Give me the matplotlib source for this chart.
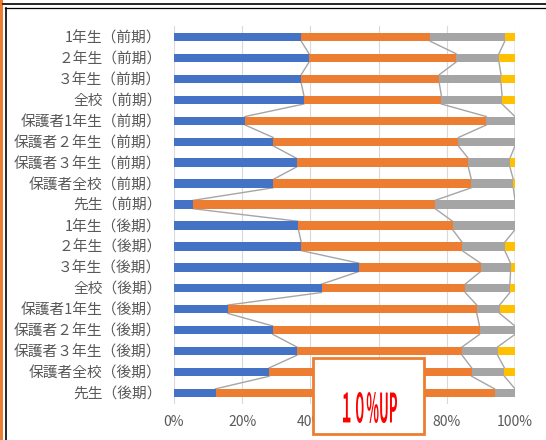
import matplotlib
matplotlib.use("Agg")
import matplotlib.pyplot as plt
from matplotlib.patches import Rectangle, PathPatch
from matplotlib.textpath import TextPath
from matplotlib.font_manager import FontProperties
from matplotlib.lines import Line2D
from matplotlib.transforms import Affine2D
import numpy as np

plt.rcParams['font.family'] = ['Noto Sans CJK JP', 'DejaVu Sans']

categories = ["1年生（前期）", "２年生（前期）", "３年生（前期）", "全校（前期）",
              "保護者1年生（前期）", "保護者２年生（前期）", "保護者３年生（前期）", "保護者全校（前期）",
              "先生（前期）", "1年生（後期）", "２年生（後期）", "３年生（後期）", "全校（後期）",
              "保護者1年生（後期）", "保護者２年生（後期）", "保護者３年生（後期）", "保護者全校（後期）",
              "先生（後期）"]
blue   = [37.3, 39.6, 37.3, 38.1, 20.8, 29.1, 36.0, 29.1, 5.6, 36.5, 37.3, 54.2, 43.3, 15.8, 29.0, 36.0, 27.9, 12.2]
orange = [37.8, 43.1, 40.5, 40.3, 70.8, 54.3, 50.3, 58.1, 71.0, 45.2, 47.2, 35.7, 42.1, 73.0, 60.6, 48.5, 59.4, 81.8]
gray   = [21.9, 12.6, 18.1, 17.8, 8.4, 16.6, 12.2, 12.3, 23.4, 18.3, 12.5, 8.8, 13.1, 6.7, 10.4, 10.4, 9.6, 6.0]
yellow = [3.0, 4.7, 4.1, 3.8, 0.0, 0.0, 1.5, 0.5, 0.0, 0.0, 3.0, 1.3, 1.5, 4.5, 0.0, 5.1, 3.1, 0.0]
xticks = [0, 20, 40, 60, 80, 100]
xticklabels = ["0%", "20%", "40%", "60%", "80%", "100%"]
box_text = "１０%UP"

colors = ["#4472C4", "#ED7D31", "#A5A5A5", "#FFC000"]
W, H = 546, 440
fig = plt.figure(figsize=(W / 100, H / 100), dpi=100)
ax = fig.add_axes([174 / W, (H - 403.5) / H, (515 - 174) / W, (403.5 - 26.5) / H])

y = np.arange(len(categories))
series = [np.array(blue), np.array(orange), np.array(gray), np.array(yellow)]
left = np.zeros(len(categories))
bh = 0.4
cums = []
for vals, c in zip(series, colors):
    ax.barh(y, vals, left=left, height=bh, color=c, zorder=3)
    left = left + vals
    cums.append(left.copy())

# series lines
for cum in cums:
    for i in range(len(categories) - 1):
        ax.plot([cum[i], cum[i + 1]], [y[i] + bh / 2, y[i + 1] - bh / 2],
                color="#A5A5A5", lw=1.0, zorder=2)

ax.set_xlim(0, 100)
ax.set_ylim(len(categories) - 0.5, -0.5)
ax.set_yticks(y)
ax.set_yticklabels(categories, fontsize=10.6, color="#595959")
ax.set_xticks(xticks)
ax.set_xticklabels(xticklabels, fontsize=10, color="#595959")
ax.tick_params(length=0, pad=8)
ax.tick_params(axis='y', pad=9)
ax.grid(axis='x', color="#D9D9D9", lw=0.8, zorder=0)
for s in ax.spines.values():
    s.set_visible(False)

def fx(px):
    return px / W

def fy(py):
    return (H - py) / H

# frame lines
fig.add_artist(Rectangle((0, 0), fx(2.7), 1, transform=fig.transFigure, color="#ED7D31", lw=0))
fig.add_artist(Line2D([fx(2.7), 1], [fy(4), fy(4)], transform=fig.transFigure, color="black", lw=1.2))
fig.add_artist(Line2D([fx(5), 1], [fy(8.5), fy(8.5)], transform=fig.transFigure, color="black", lw=0.9))
fig.add_artist(Line2D([fx(5.5), fx(5.5)], [0, fy(8.5)], transform=fig.transFigure, color="black", lw=1.2))

# text box
fig.add_artist(Rectangle((fx(313), fy(434)), fx(424) - fx(313), fy(358) - fy(434),
                         transform=fig.transFigure, facecolor="white", edgecolor="#ED7D31",
                         lw=2.0, zorder=10))
tp = TextPath((0, 0), box_text, size=30, prop=FontProperties(family='Noto Sans CJK JP', weight='bold'))
ext = tp.get_extents()
tx0, tx1, ty0, ty1 = 343, 397, 392, 423
sx = (tx1 - tx0) / ext.width / W
sy = (ty1 - ty0) / ext.height / H
tr = Affine2D().translate(-ext.x0, -ext.y0).scale(sx, sy).translate(fx(tx0), fy(ty1))
path = tr.transform_path(tp)
fig.add_artist(PathPatch(path, transform=fig.transFigure, facecolor="#FF0000", edgecolor="none", zorder=11))

fig.savefig("out.png", dpi=100)
